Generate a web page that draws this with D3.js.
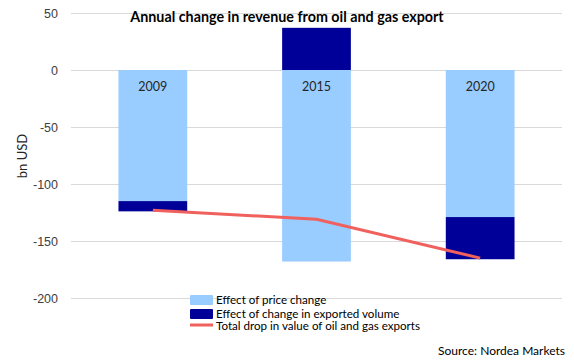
<!DOCTYPE html>
<html>
<head>
<meta charset="utf-8">
<script src="https://cdn.jsdelivr.net/npm/d3@7"></script>
<style>
  body { margin: 0; background: #fff; }
  svg { font-family: Lato, "Open Sans", sans-serif; }
</style>
</head>
<body>
<svg width="574" height="362"></svg>
<script>
var categories = ["2009", "2015", "2020"];
var priceEffect = [-115, -168, -129];
var volumeEffect = [-9, 37, -37];
var totalDrop = [-123, -131, -165];
var yTicks = [50, 0, -50, -100, -150, -200];
var legendLabels = ["Effect of price change", "Effect of change in exported volume", "Total drop in value of oil and gas exports"];

var svg = d3.select("svg"),
    margin = {top: 13, right: 12, bottom: 64, left: 71},
    width = +svg.attr("width") - margin.left - margin.right,
    height = +svg.attr("height") - margin.top - margin.bottom,
    g = svg.append("g").attr("transform", "translate(" + margin.left + "," + margin.top + ")");

var lightBlue = "#99ccff", darkBlue = "#000099", red = "#f0605d";

var x = d3.scaleBand()
    .domain(categories)
    .range([0, width])
    .paddingInner(0.58)
    .paddingOuter(0.29);

var y = d3.scaleLinear()
    .domain([-200, 50])
    .range([height, 0]);

// gridlines + tick labels (plain hyphen for negatives)
g.append("g")
    .attr("class", "y-axis")
    .call(d3.axisLeft(y).tickValues(yTicks).tickSize(-width).tickPadding(13)
      .tickFormat(function(d) { return String(d); }))
    .call(function(a) {
      a.select(".domain").remove();
      a.selectAll(".tick line").attr("stroke", "#d9d9d9");
      a.selectAll(".tick text").attr("fill", "#404040").style("font-size", "12.5px");
    });

var rows = categories.map(function(c, i) {
  return {cat: c, price: priceEffect[i], volume: volumeEffect[i]};
});

var stack = d3.stack()
    .keys(["price", "volume"])
    .offset(d3.stackOffsetDiverging);

var colors = {price: lightBlue, volume: darkBlue};

g.append("g").selectAll("g")
  .data(stack(rows))
  .enter().append("g")
    .attr("fill", function(d) { return colors[d.key]; })
  .selectAll("rect")
  .data(function(d) { return d; })
  .enter().append("rect")
    .attr("x", function(d) { return x(d.data.cat); })
    .attr("width", x.bandwidth())
    .attr("y", function(d) { return y(Math.max(d[0], d[1])); })
    .attr("height", function(d) { return Math.abs(y(d[0]) - y(d[1])); });

// category labels inside bars
g.append("g").selectAll("text")
  .data(categories)
  .enter().append("text")
    .attr("x", function(d) { return x(d) + x.bandwidth() / 2; })
    .attr("y", y(0) + 21)
    .attr("text-anchor", "middle")
    .attr("fill", "#262626")
    .style("font-size", "12.5px")
    .text(function(d) { return d; });

// total line
var line = d3.line()
    .x(function(d, i) { return x(categories[i]) + x.bandwidth() / 2; })
    .y(function(d) { return y(d); });

g.append("path")
    .datum(totalDrop)
    .attr("fill", "none")
    .attr("stroke", red)
    .attr("stroke-width", 3)
    .attr("d", line);

// title
svg.append("text")
    .attr("x", 287)
    .attr("y", 22)
    .attr("text-anchor", "middle")
    .attr("font-weight", "bold")
    .attr("fill", "#000")
    .style("font-size", "14.3px")
    .text("Annual change in revenue from oil and gas export");

// y label
svg.append("text")
    .attr("transform", "translate(27,156) rotate(-90)")
    .attr("text-anchor", "middle")
    .attr("fill", "#262626")
    .style("font-size", "13px")
    .text("bn USD");

// legend
var legend = svg.append("g").attr("transform", "translate(190,295)");
var legendItems = legend.selectAll("g")
  .data(legendLabels)
  .enter().append("g")
    .attr("transform", function(d, i) { return "translate(0," + (i * 14) + ")"; });

legendItems.each(function(d, i) {
  var item = d3.select(this);
  if (i < 2) {
    item.append("rect")
        .attr("width", 23).attr("height", 10).attr("y", 0).attr("rx", 1)
        .attr("fill", i === 0 ? lightBlue : darkBlue);
  } else {
    item.append("line")
        .attr("x1", 0).attr("x2", 23).attr("y1", 2).attr("y2", 2)
        .attr("stroke", red).attr("stroke-width", 3);
  }
  item.append("text")
      .attr("x", 26)
      .attr("y", i < 2 ? 9 : 7)
      .attr("fill", "#000")
      .style("font-size", "11.6px")
      .text(d);
});

// source
svg.append("text")
    .attr("x", 565)
    .attr("y", 355)
    .attr("text-anchor", "end")
    .attr("fill", "#000")
    .style("font-size", "12px")
    .text("Source: Nordea Markets");
</script>
</body>
</html>
